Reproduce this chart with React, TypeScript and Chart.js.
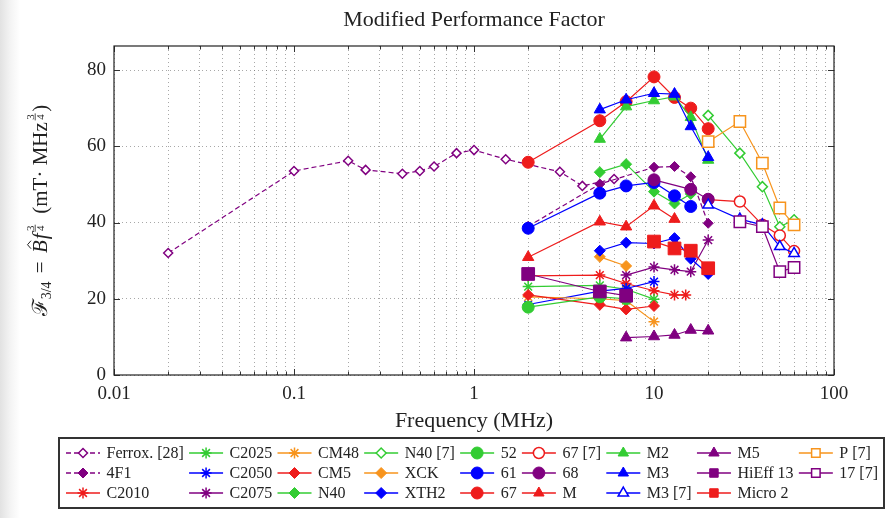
import React, { useEffect, useRef } from 'react';
import { Chart, registerables } from 'chart.js';
Chart.register(...registerables);

// ---------- data (frequency MHz, F3/4 value) ----------
const ferrox28 = [[0.02, 32], [0.1, 53.5], [0.2, 56.2], [0.25, 53.8], [0.4, 52.8], [0.5, 53.5], [0.6, 54.7], [0.8, 58.2], [1, 59], [1.5, 56.6], [3, 53.3], [4, 49.6], [6, 51.4]];
const f4F1 = [[2, 39], [5, 50.1], [10, 54.5], [13, 54.7], [16, 52], [20, 39.8]];
const c2010 = [[2, 26], [5, 26.2], [7, 24], [10, 22.1], [13, 21], [15, 21]];
const c2025 = [[2, 23.2], [5, 23.5], [7, 22.5], [10, 19.9]];
const c2050 = [[2, 18.5], [5, 22], [7, 22.7], [10, 24.5]];
const c2075 = [[7, 26.2], [10, 28.3], [13, 27.6], [16, 27.1], [20, 35.4]];
const cm48 = [[2, 20.5], [5, 20], [7, 19.5], [10, 14]];
const cm5 = [[2, 21], [5, 18.4], [7, 17.2], [10, 18.1]];
const n40 = [[5, 53.2], [7, 55.3], [10, 48.1], [13, 45], [16, 47.5]];
const n40r7 = [[20, 68.1], [30, 58.2], [40, 49.4], [50, 38.9], [60, 40.7]];
const xck = [[5, 31], [7, 28.6]];
const xth2 = [[5, 32.6], [7, 34.7], [10, 34.5], [13, 35.9], [16, 30.5], [20, 26.5]];
const mat52 = [[2, 17.8], [5, 20.5], [7, 20]];
const mat61 = [[2, 38.5], [5, 47.7], [7, 49.6], [10, 50.5], [13, 47], [16, 44.2]];
const mat67 = [[2, 55.8], [5, 66.7], [7, 71.7], [10, 78.2], [13, 72.8], [16, 70], [20, 64.6]];
const mat67r7 = [[20, 46], [30, 45.5], [40, 39.4], [50, 36.6], [60, 32.5]];
const mat68 = [[10, 51.2], [16, 48.7], [20, 46.1]];
const matM = [[2, 30.9], [5, 40.2], [7, 38.9], [10, 44.4], [13, 40.9]];
const matM2 = [[5, 61.9], [7, 70.4], [10, 72], [13, 73], [16, 67.6], [20, 56.4]];
const matM3 = [[5, 69.6], [7, 72.2], [10, 73.9], [13, 73.7], [16, 65.2], [20, 57.1]];
const matM3r7 = [[20, 44.6], [30, 40.9], [40, 39.4], [50, 33.7], [60, 31.9]];
const matM5 = [[7, 9.8], [10, 10.1], [13, 10.5], [16, 11.8], [20, 11.6]];
const hiEff13 = [[2, 26.5], [5, 21.9], [7, 20.8]];
const micro2 = [[10, 35], [13, 33.2], [16, 32.6], [20, 28]];
const p7 = [[20, 61.2], [30, 66.5], [40, 55.6], [50, 43.8], [60, 39.4]];
const m17r7 = [[30, 40.2], [40, 38.9], [50, 27.1], [60, 28.2]];

const xMajorLabels: Record<string, string> = { '0.01': '0.01', '0.1': '0.1', '1': '1', '10': '10', '100': '100' };
const yTickValues = [0, 20, 40, 60, 80];

// ---------- styles ----------
const PURPLE = '#800080';
const GREEN = '#33cc33';
const BLUE = '#0000ff';
const RED = '#ee1c1c';
const ORANGE = '#f7941d';

type S = { label: string; data: number[][]; color: string; shape: string; r: number; open?: boolean; dash?: number[] };
const series: S[] = [
  { label: 'Ferrox. [28]', data: ferrox28, color: PURPLE, shape: 'rectRot', r: 4.5, open: true, dash: [5, 3] },
  { label: '4F1', data: f4F1, color: PURPLE, shape: 'rectRot', r: 5, dash: [5, 3] },
  { label: 'C2010', data: c2010, color: RED, shape: 'star', r: 5.5 },
  { label: 'C2025', data: c2025, color: GREEN, shape: 'star', r: 5.5 },
  { label: 'C2050', data: c2050, color: BLUE, shape: 'star', r: 5.5 },
  { label: 'C2075', data: c2075, color: PURPLE, shape: 'star', r: 5.5 },
  { label: 'CM48', data: cm48, color: ORANGE, shape: 'star', r: 5.5 },
  { label: 'CM5', data: cm5, color: RED, shape: 'rectRot', r: 5.5 },
  { label: 'N40', data: n40, color: GREEN, shape: 'rectRot', r: 5.5 },
  { label: 'N40 [7]', data: n40r7, color: GREEN, shape: 'rectRot', r: 5, open: true },
  { label: 'XCK', data: xck, color: ORANGE, shape: 'rectRot', r: 5.5 },
  { label: 'XTH2', data: xth2, color: BLUE, shape: 'rectRot', r: 5.5 },
  { label: '52', data: mat52, color: GREEN, shape: 'circle', r: 6 },
  { label: '61', data: mat61, color: BLUE, shape: 'circle', r: 6 },
  { label: '67', data: mat67, color: RED, shape: 'circle', r: 6 },
  { label: '67 [7]', data: mat67r7, color: RED, shape: 'circle', r: 5.5, open: true },
  { label: '68', data: mat68, color: PURPLE, shape: 'circle', r: 6 },
  { label: 'M', data: matM, color: RED, shape: 'triangle', r: 6.5 },
  { label: 'M2', data: matM2, color: GREEN, shape: 'triangle', r: 6.5 },
  { label: 'M3', data: matM3, color: BLUE, shape: 'triangle', r: 6.5 },
  { label: 'M3 [7]', data: matM3r7, color: BLUE, shape: 'triangle', r: 6, open: true },
  { label: 'M5', data: matM5, color: PURPLE, shape: 'triangle', r: 6.5 },
  { label: 'HiEff 13', data: hiEff13, color: PURPLE, shape: 'rect', r: 9 },
  { label: 'Micro 2', data: micro2, color: RED, shape: 'rect', r: 9 },
  { label: 'P [7]', data: p7, color: ORANGE, shape: 'rect', r: 8, open: true },
  { label: '17 [7]', data: m17r7, color: PURPLE, shape: 'rect', r: 8, open: true },
];

const FAM = "'Liberation Serif','DejaVu Serif','Times New Roman',serif";

function buildXTicks(): number[] {
  const out: number[] = [];
  for (let e = -2; e <= 1; e++) {
    for (let m = 1; m <= 9; m++) out.push(Number((m * Math.pow(10, e)).toPrecision(3)));
  }
  out.push(100);
  return out;
}

function drawMarker(ctx: CanvasRenderingContext2D, shape: string, x: number, y: number, r: number, color: string, open: boolean) {
  ctx.save();
  ctx.beginPath();
  ctx.lineWidth = open ? 1.5 : 1;
  ctx.strokeStyle = color;
  ctx.fillStyle = open ? '#ffffff' : color;
  if (shape === 'circle') {
    ctx.arc(x, y, r, 0, Math.PI * 2);
  } else if (shape === 'triangle') {
    for (let k = 0; k < 3; k++) {
      const a = (k * 2 * Math.PI) / 3;
      const px = x + Math.sin(a) * r;
      const py = y - Math.cos(a) * r;
      if (k === 0) ctx.moveTo(px, py); else ctx.lineTo(px, py);
    }
    ctx.closePath();
  } else if (shape === 'rect') {
    const s = r * Math.SQRT1_2;
    ctx.rect(x - s, y - s, 2 * s, 2 * s);
  } else if (shape === 'rectRot') {
    ctx.moveTo(x - r, y); ctx.lineTo(x, y - r); ctx.lineTo(x + r, y); ctx.lineTo(x, y + r); ctx.closePath();
  } else if (shape === 'star') {
    for (let k = 0; k < 4; k++) {
      const a = (k * Math.PI) / 4;
      ctx.moveTo(x - Math.sin(a) * r, y - Math.cos(a) * r);
      ctx.lineTo(x + Math.sin(a) * r, y + Math.cos(a) * r);
    }
    ctx.lineWidth = 1.5;
    ctx.stroke();
    ctx.restore();
    return;
  }
  ctx.fill();
  ctx.stroke();
  ctx.restore();
}

function drawYLabel(ctx: CanvasRenderingContext2D, cx: number, cy: number) {
  const big = 21;
  const fNorm = `${big}px ${FAM}`;
  const fIt = `italic ${big}px ${FAM}`;
  const fSub = `14px ${FAM}`;
  const fFrac = `11px ${FAM}`;
  type Seg = { kind: 'text' | 'hat' | 'frac' | 'gap'; t?: string; font?: string; dy?: number; w?: number };
  const segs: Seg[] = [
    { kind: 'text', t: 'ℱ', font: fNorm, dy: 0 },
    { kind: 'text', t: '3/4', font: fSub, dy: 4 },
    { kind: 'gap', w: 3 },
    { kind: 'text', t: ' = ', font: fNorm, dy: 0 },
    { kind: 'gap', w: 3 },
    { kind: 'hat', t: 'B', font: fIt },
    { kind: 'text', t: 'f', font: fIt, dy: 0 },
    { kind: 'frac' },
    { kind: 'gap', w: 4 },
    { kind: 'text', t: ' (mT· MHz', font: fNorm, dy: 0 },
    { kind: 'frac' },
    { kind: 'text', t: ')', font: fNorm, dy: 0 },
  ];
  const widths = segs.map((s) => {
    if (s.kind === 'gap') return s.w!;
    if (s.kind === 'frac') { ctx.font = fFrac; return ctx.measureText('3').width + 5; }
    ctx.font = s.font!;
    return ctx.measureText(s.t!).width + (s.kind === 'hat' ? 1 : 0);
  });
  const W = widths.reduce((a, b) => a + b, 0);
  ctx.save();
  ctx.translate(cx, cy);
  ctx.rotate(-Math.PI / 2);
  ctx.fillStyle = '#222';
  ctx.strokeStyle = '#222';
  ctx.textBaseline = 'alphabetic';
  ctx.textAlign = 'left';
  let x = -W / 2;
  const base = 7;
  segs.forEach((s, i) => {
    const w = widths[i];
    if (s.kind === 'text') {
      ctx.font = s.font!;
      ctx.fillText(s.t!, x, base + (s.dy || 0));
    } else if (s.kind === 'hat') {
      ctx.font = s.font!;
      ctx.fillText(s.t!, x, base);
      const hx = x + w / 2 + 1.5;
      ctx.beginPath();
      ctx.lineWidth = 1;
      ctx.moveTo(hx - 4, base - 16);
      ctx.lineTo(hx, base - 19.5);
      ctx.lineTo(hx + 4, base - 16);
      ctx.stroke();
    } else if (s.kind === 'frac') {
      ctx.font = fFrac;
      const mx = x + w / 2;
      ctx.textAlign = 'center';
      ctx.fillText('3', mx, base - 13);
      ctx.fillText('4', mx, base - 3);
      ctx.beginPath();
      ctx.lineWidth = 0.8;
      ctx.moveTo(mx - 3.5, base - 11.8);
      ctx.lineTo(mx + 3.5, base - 11.8);
      ctx.stroke();
      ctx.textAlign = 'left';
    }
    x += w;
  });
  ctx.restore();
}

const legendRows = [453, 473, 493];

const decorPlugin = {
  id: 'decor',
  beforeDatasetsDraw(chart: any) {
    const { ctx, chartArea: a, scales } = chart;
    ctx.save();
    ctx.strokeStyle = '#333';
    ctx.lineWidth = 1;
    const xs = scales.x;
    xs.ticks.forEach((t: any) => {
      const v = t.value;
      const px = Math.round(xs.getPixelForValue(v)) + 0.5;
      const major = xMajorLabels[String(v)] !== undefined;
      const len = major ? 6 : 3.5;
      ctx.beginPath();
      ctx.moveTo(px, a.bottom); ctx.lineTo(px, a.bottom - len);
      ctx.moveTo(px, a.top); ctx.lineTo(px, a.top + len);
      ctx.stroke();
    });
    const ys = scales.y;
    yTickValues.forEach((v) => {
      const py = Math.round(ys.getPixelForValue(v)) + 0.5;
      ctx.beginPath();
      ctx.moveTo(a.left, py); ctx.lineTo(a.left + 6, py);
      ctx.moveTo(a.right, py); ctx.lineTo(a.right - 6, py);
      ctx.stroke();
    });
    ctx.restore();
  },
  afterDraw(chart: any) {
    const { ctx, chartArea: a } = chart;
    ctx.save();
    ctx.strokeStyle = '#222';
    ctx.lineWidth = 1.2;
    ctx.strokeRect(a.left, a.top, a.right - a.left, a.bottom - a.top);
    const cx = (a.left + a.right) / 2;
    ctx.fillStyle = '#222';
    ctx.textAlign = 'center';
    ctx.textBaseline = 'middle';
    ctx.font = `22px ${FAM}`;
    ctx.fillText('Modified Performance Factor', cx, 20);
    ctx.font = `22px ${FAM}`;
    ctx.fillText('Frequency (MHz)', cx, 421);
    drawYLabel(ctx, 40, (a.top + a.bottom) / 2);

    // legend (column-major, 3 rows)
    ctx.strokeStyle = '#333';
    ctx.lineWidth = 2;
    ctx.strokeRect(59, 438, 825, 70);
    ctx.font = `16px ${FAM}`;
    ctx.textAlign = 'left';
    ctx.textBaseline = 'middle';
    const nCols = Math.ceil(series.length / 3);
    const colW: number[] = [];
    for (let c = 0; c < nCols; c++) {
      let m = 0;
      for (let r = 0; r < 3; r++) {
        const s = series[c * 3 + r];
        if (s) m = Math.max(m, ctx.measureText(s.label).width);
      }
      colW.push(m);
    }
    const firstMarker = 83;
    const markerToText = 23.5;
    const lastTextEnd = 878;
    const fixed = colW.reduce((p, q) => p + q, 0) + nCols * markerToText;
    const G = (lastTextEnd - firstMarker - fixed) / (nCols - 1);
    const markers: number[] = [];
    let mxPos = firstMarker;
    for (let c = 0; c < nCols; c++) {
      markers.push(mxPos);
      mxPos = mxPos + markerToText + colW[c] + G;
    }
    series.forEach((s, i) => {
      const col = Math.floor(i / 3);
      const row = i % 3;
      const mx = markers[col];
      const tx = mx + markerToText;
      const y = legendRows[row];
      ctx.save();
      ctx.strokeStyle = s.color;
      ctx.lineWidth = 1.5;
      ctx.setLineDash(s.dash || []);
      ctx.beginPath();
      ctx.moveTo(mx - 17, y); ctx.lineTo(mx + 17, y);
      ctx.stroke();
      ctx.restore();
      drawMarker(ctx, s.shape, mx, y, Math.min(s.r, 6), s.color, !!s.open);
      ctx.fillStyle = '#222';
      ctx.fillText(s.label, tx, y + 1);
    });
    ctx.restore();
  },
};

export default function App() {
  const ref = useRef<HTMLCanvasElement | null>(null);
  useEffect(() => {
    if (!ref.current) return;
    const xTicks = buildXTicks();
    const datasets = series.map((s, i) => ({
      label: s.label,
      data: s.data.map(([x, y]) => ({ x, y })),
      showLine: true,
      borderColor: s.color,
      backgroundColor: s.color,
      borderWidth: 1.2,
      borderDash: s.dash || [],
      fill: false,
      tension: 0,
      pointStyle: s.shape,
      pointRadius: s.r,
      pointBackgroundColor: s.open ? '#ffffff' : s.color,
      pointBorderColor: s.color,
      pointBorderWidth: s.open ? 1.5 : (s.shape === 'star' ? 1.5 : 1),
      order: -i,
    }));
    const chart = new Chart(ref.current, {
      type: 'scatter',
      data: { datasets },
      options: {
        animation: false,
        responsive: false,
        maintainAspectRatio: false,
        layout: { padding: { left: 0, right: 54, top: 46, bottom: 113 } },
        plugins: { legend: { display: false }, title: { display: false }, tooltip: { enabled: false } },
        scales: {
          x: {
            type: 'logarithmic',
            min: 0.01,
            max: 100,
            afterBuildTicks: (s: any) => { s.ticks = xTicks.map((v) => ({ value: v })); },
            afterFit: (s: any) => { s.height = 30; },
            ticks: {
              autoSkip: false,
              maxRotation: 0,
              padding: 8,
              color: '#222',
              font: { family: FAM, size: 19 },
              callback: (v: any) => xMajorLabels[String(v)] ?? '',
            },
            grid: { color: 'rgba(110,110,110,0.6)', lineWidth: 1, drawTicks: false, borderDash: [1, 3] },
            border: { display: false, dash: [1, 3] },
          },
          y: {
            type: 'linear',
            min: 0,
            max: 86.3,
            afterBuildTicks: (s: any) => { s.ticks = yTickValues.map((v) => ({ value: v })); },
            afterFit: (s: any) => { s.width = 114; },
            ticks: { padding: 8, color: '#222', font: { family: FAM, size: 19 } },
            grid: { color: 'rgba(110,110,110,0.6)', lineWidth: 1, drawTicks: false, borderDash: [1, 3] },
            border: { display: false, dash: [1, 3] },
          },
        },
      },
      plugins: [decorPlugin],
    } as any);
    return () => chart.destroy();
  }, []);
  return (
    <div style={{ position: 'fixed', left: 0, top: 0, width: 888, height: 518, background: 'linear-gradient(to right, #e2e2e2 0px, #f3f3f3 10px, #ffffff 20px)' }}>
      <canvas ref={ref} width={888} height={518} style={{ width: 888, height: 518, display: 'block' }} />
    </div>
  );
}
